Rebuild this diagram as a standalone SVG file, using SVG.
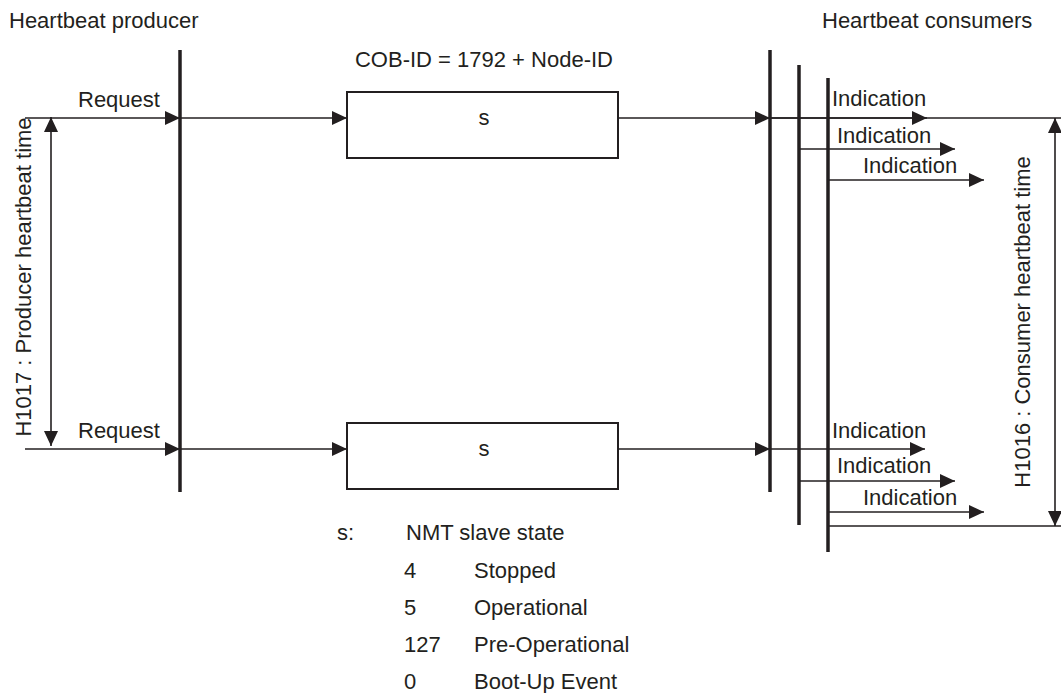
<svg xmlns="http://www.w3.org/2000/svg" width="1061" height="693" viewBox="0 0 1061 693">
<style>
text{font-family:"Liberation Sans",Arial,sans-serif;font-size:22px;fill:#231f20}
.ln{stroke:#231f20;stroke-width:1.6;fill:none}
.bar{stroke:#231f20;stroke-width:3.5;fill:none}
.box{stroke:#231f20;stroke-width:2;fill:#fff}
.arr{marker-end:url(#ah)}
.dbl{marker-start:url(#ah);marker-end:url(#ah)}
</style>
<defs>
<marker id="ah" markerUnits="userSpaceOnUse" markerWidth="16" markerHeight="16" refX="15" refY="7" orient="auto-start-reverse" viewBox="0 0 16 14">
<path d="M0,0 L15,7 L0,14 z" fill="#231f20"/>
</marker>
</defs>
<rect width="1061" height="693" fill="#fff"/>
<g id="titles">
<text x="9" y="28">Heartbeat producer</text>
<text x="822" y="28">Heartbeat consumers</text>
<text x="484" y="67" text-anchor="middle">COB-ID = 1792 + Node-ID</text>
</g>
<g id="connectors">
<line class="ln arr" x1="25" y1="118" x2="180" y2="118"/>
<line class="ln arr" x1="180" y1="118" x2="347" y2="118"/>
<line class="ln arr" x1="618" y1="118" x2="770" y2="118"/>
<line class="ln" x1="770" y1="118" x2="1061" y2="118"/>
<line class="ln arr" x1="770" y1="118" x2="927" y2="118"/>
<line class="ln arr" x1="799" y1="149" x2="955" y2="149"/>
<line class="ln arr" x1="828" y1="180" x2="984" y2="180"/>
<line class="ln arr" x1="25" y1="449" x2="180" y2="449"/>
<line class="ln arr" x1="180" y1="449" x2="347" y2="449"/>
<line class="ln arr" x1="618" y1="449" x2="770" y2="449"/>
<line class="ln arr" x1="770" y1="449" x2="925" y2="449"/>
<line class="ln arr" x1="799" y1="481" x2="955" y2="481"/>
<line class="ln arr" x1="828" y1="512" x2="984" y2="512"/>
<line class="ln" x1="828" y1="526" x2="1061" y2="526"/>
<line class="ln dbl" x1="51" y1="117" x2="51" y2="446"/>
<line class="ln dbl" x1="1055" y1="118" x2="1055" y2="526"/>
</g>
<g id="producer">
<line class="bar" x1="180" y1="50" x2="180" y2="492"/>
<text x="78" y="107">Request</text>
<text x="78" y="438">Request</text>
<text transform="translate(31,277) rotate(-90)" text-anchor="middle">H1017 : Producer heartbeat time</text>
</g>
<g id="frame-top">
<rect class="box" x="347" y="92" width="271" height="66"/>
<text x="484" y="125" text-anchor="middle">s</text>
</g>
<g id="frame-bottom">
<rect class="box" x="347" y="423" width="271" height="66"/>
<text x="484" y="456" text-anchor="middle">s</text>
</g>
<g id="consumers">
<line class="bar" x1="770" y1="50" x2="770" y2="492"/>
<line class="bar" x1="799" y1="65" x2="799" y2="525"/>
<line class="bar" x1="828" y1="78" x2="828" y2="552"/>
<text x="832" y="106">Indication</text>
<text x="837" y="143">Indication</text>
<text x="863" y="173">Indication</text>
<text x="832" y="438">Indication</text>
<text x="837" y="473">Indication</text>
<text x="863" y="505">Indication</text>
<text transform="translate(1030,322) rotate(-90)" text-anchor="middle">H1016 : Consumer heartbeat time</text>
</g>
<g id="legend">
<text x="337" y="540">s:</text>
<text x="406" y="540">NMT slave state</text>
<text x="404" y="578">4</text><text x="474" y="578">Stopped</text>
<text x="404" y="615">5</text><text x="474" y="615">Operational</text>
<text x="404" y="652">127</text><text x="474" y="652">Pre-Operational</text>
<text x="404" y="689">0</text><text x="474" y="689">Boot-Up Event</text>
</g>
</svg>
